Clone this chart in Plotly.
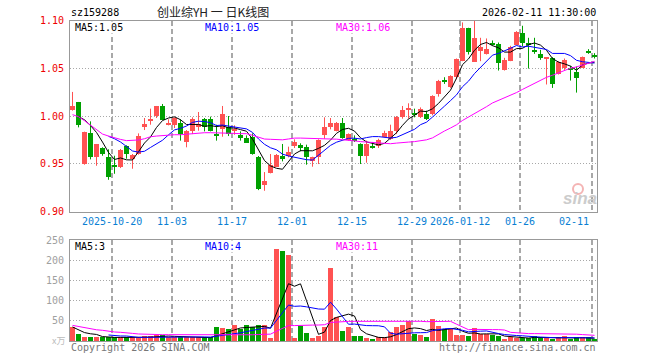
import numpy as np
import pandas as pd
import plotly.graph_objects as go

# ---------------- data ----------------
holidays = ["2026-01-01", "2026-01-02"]
dates = [d.strftime("%Y-%m-%d") for d in pd.bdate_range("2025-10-09", "2026-02-11")
         if d.strftime("%Y-%m-%d") not in holidays]

open_ = [1.0063, 1.0147, 0.9504, 0.9832, 0.9574, 0.9665, 0.9581, 0.9497, 0.9469, 0.9693,
         0.9560, 0.9612, 0.9888, 0.9955, 1.0007, 1.0105, 0.9916, 0.9916, 0.9937, 0.9728,
         0.9846, 0.9888, 0.9972, 0.9979, 0.9818, 0.9874, 0.9895, 0.9853, 0.9804, 0.9770,
         0.9790, 0.9581, 0.9287, 0.9406, 0.9476, 0.9588, 0.9588, 0.9686, 0.9700, 0.9679,
         0.9539, 0.9574, 0.9804, 0.9888, 0.9853, 0.9937, 0.9756, 0.9762, 0.9707, 0.9588,
         0.9693, 0.9686, 0.9783, 0.9762, 0.9853, 0.9993, 1.0063, 1.0035, 0.9990, 1.0021,
         1.0021, 1.0231, 1.0378, 1.0308, 1.0413, 1.0581, 1.0924, 1.0574, 1.0686, 1.0651,
         1.0770, 1.0756, 1.0483, 1.0581, 1.0749, 1.0875, 1.0770, 1.0693, 1.0651, 1.0609,
         1.0616, 1.0441, 1.0504, 1.0511, 1.0462, 1.0504, 1.0672, 1.0637]
high = [1.0252, 1.0147, 0.9836, 0.9944, 0.9707, 0.9672, 0.9651, 0.9584, 0.9654, 0.9693,
        0.9602, 0.9818, 0.9979, 1.0077, 1.0105, 1.0126, 0.9965, 0.9986, 0.9965, 0.9853,
        0.9986, 1.0042, 0.9979, 0.9993, 0.9909, 1.0105, 1.0000, 0.9902, 0.9839, 0.9797,
        0.9818, 0.9581, 0.9413, 0.9602, 0.9602, 0.9707, 0.9679, 0.9756, 0.9714, 0.9700,
        0.9574, 0.9756, 0.9986, 0.9979, 0.9937, 0.9979, 0.9818, 0.9797, 0.9714, 0.9742,
        0.9728, 0.9762, 0.9846, 0.9909, 1.0000, 1.0105, 1.0133, 1.0077, 1.0090, 1.0056,
        1.0217, 1.0378, 1.0406, 1.0427, 1.0602, 1.0980, 1.0924, 1.1000, 1.0819, 1.0812,
        1.0791, 1.0770, 1.0609, 1.0735, 1.0889, 1.0945, 1.0819, 1.0819, 1.0693, 1.0616,
        1.0616, 1.0574, 1.0602, 1.0525, 1.0518, 1.0623, 1.0700, 1.0658]
low = [1.0056, 0.9881, 0.9490, 0.9546, 0.9479, 0.9584, 0.9332, 0.9395, 0.9455, 0.9553,
       0.9448, 0.9595, 0.9853, 0.9909, 0.9979, 0.9965, 0.9902, 0.9874, 0.9742, 0.9672,
       0.9811, 0.9846, 0.9839, 0.9839, 0.9742, 0.9783, 0.9790, 0.9804, 0.9742, 0.9720,
       0.9595, 0.9224, 0.9217, 0.9399, 0.9469, 0.9525, 0.9567, 0.9665, 0.9630, 0.9490,
       0.9469, 0.9497, 0.9762, 0.9860, 0.9839, 0.9762, 0.9742, 0.9728, 0.9497, 0.9511,
       0.9658, 0.9665, 0.9777, 0.9749, 0.9811, 0.9972, 0.9972, 0.9986, 0.9979, 0.9958,
       1.0007, 1.0203, 1.0336, 1.0294, 1.0385, 1.0574, 1.0644, 1.0567, 1.0574, 1.0644,
       1.0735, 1.0476, 1.0476, 1.0574, 1.0742, 1.0728, 1.0497, 1.0651, 1.0588, 1.0330,
       1.0294, 1.0434, 1.0483, 1.0371, 1.0245, 1.0504, 1.0651, 1.0602]
close = [1.0112, 0.9910, 0.9836, 0.9574, 0.9707, 0.9609, 0.9364, 0.9469, 0.9654, 0.9609,
         0.9602, 0.9797, 0.9923, 0.9972, 1.0105, 0.9965, 0.9930, 0.9986, 0.9818, 0.9853,
         0.9979, 0.9923, 0.9888, 0.9853, 0.9804, 1.0021, 0.9818, 0.9874, 0.9770, 0.9720,
         0.9609, 0.9238, 0.9329, 0.9490, 0.9595, 0.9560, 0.9630, 0.9735, 0.9665, 0.9574,
         0.9574, 0.9756, 0.9895, 0.9937, 0.9930, 0.9777, 0.9818, 0.9749, 0.9588, 0.9714,
         0.9679, 0.9756, 0.9832, 0.9853, 1.0000, 1.0070, 1.0091, 1.0021, 1.0077, 0.9972,
         1.0217, 1.0371, 1.0364, 1.0427, 1.0602, 1.0924, 1.0672, 1.0819, 1.0728, 1.0707,
         1.0756, 1.0560, 1.0595, 1.0728, 1.0889, 1.0770, 1.0756, 1.0679, 1.0616, 1.0616,
         1.0343, 1.0567, 1.0588, 1.0497, 1.0399, 1.0623, 1.0665, 1.0630]
volume = [35, 16.7, 10, 10, 10, 8.3, 8.3, 8.3, 10, 8.3,
          8.3, 8.3, 11.7, 11.7, 13.3, 15, 10, 8.3, 10, 8.3,
          8.3, 8.3, 8.3, 8.3, 33, 31.7, 29, 39, 30, 39,
          35, 39, 39, 7.5, 229, 224, 215, 7.5, 37.5, 19,
          7.5, 11.7, 35, 182, 58, 25, 35, 11.7, 11.7, 6.7,
          5, 10, 8.3, 22.5, 34, 39, 50, 17.5, 14, 10,
          54, 36.7, 28, 29, 14, 14, 11.7, 31.7, 15.8, 15.8,
          14, 11.7, 4.2, 10, 7.5, 7.5, 7.5, 11.7, 8.3, 8.3,
          5, 8.3, 11.7, 5, 8.3, 8.3, 8.3, 5]

# moving-average values before a full window is visible
ma5_head = [None, 0.9993, 0.9960, 0.9900]
ma10_head = [None, None, None, None, None, None, 0.9787, 0.9762, 0.9728]
ma30_head = [1.0014, 0.9993, 0.9951, 0.9902, 0.9853, 0.9811, 0.9790, 0.9770, 0.9755, 0.9742,
             0.9742, 0.9749, 0.9762, 0.9783, 0.9790, 0.9797, 0.9797, 0.9804, 0.9804, 0.9811,
             0.9818, 0.9822, 0.9825, 0.9825, 0.9825, 0.9825, 0.9822, 0.9818, 0.9815]
vol_ma5_head = [35, 27, 21, 18]
vol_ma10_head = [None, None, None, None, None, None, 15, 13.5, 12.5]
vol_ma30_head = [39, 36, 32.5, 30, 28, 26.7, 24, 22.5, 21.7, 21,
                 19, 17.5, 16.7, 16.7, 15.8, 15.8, 15.8, 15.8, 15.8, 15.8,
                 15.8, 15.8, 15, 14.2, 14.2, 15, 15, 15.8, 15.8]

tick_dates = ["2025-10-20", "2025-11-03", "2025-11-17", "2025-12-01", "2025-12-15",
              "2025-12-29", "2026-01-12", "2026-01-26", "2026-02-11"]
tick_text = ["2025-10-20", "11-03", "11-17", "12-01", "12-15",
             "12-29", "2026-01-12", "01-26", "02-11"]
price_ticks = [0.90, 0.95, 1.00, 1.05, 1.10]
price_tick_text = ["0.90", "0.95", "1.00", "1.05", "1.10"]
vol_ticks = [50, 100, 150, 200, 250]
vol_tick_text = ["50", "100", "150", "200", "250"]

title_code = "sz159288"
title_name = "创业综YH 一 日K线图"
title_time = "2026-02-11 11:30:00"
ma_labels = ["MA5:1.05", "MA10:1.05", "MA30:1.06"]
vol_ma_labels = ["MA5:3", "MA10:4", "MA30:11"]

# ---------------- style ----------------
RED = "#ff5252"
GREEN = "#00a000"
MA_COLORS = ["#000000", "#0000ff", "#ff00ff"]
GRID = "#a8a8a8"
FRAME = "#999999"
MONO = "DejaVu Sans Mono"

W, H = 660, 360
L, R, T, B = 70, 597, 20, 341          # plot area in pixels


def px(x):
    return (x - L) / (R - L)


def py(y):
    return (B - y) / (B - T)


n = len(close)
idx = np.arange(n)
o = np.array(open_)
c = np.array(close)
hi = np.array(high)
lo = np.array(low)
vol = np.array(volume, dtype=float)
up = c >= o


def moving(values, k, head):
    s = pd.Series(values, dtype=float).rolling(k).mean()
    out = [None if np.isnan(v) else float(v) for v in s]
    for i, h in enumerate(head):
        out[i] = h
    return out


ma_price = [moving(c, 5, ma5_head), moving(c, 10, ma10_head), moving(c, 30, ma30_head)]
ma_vol = [moving(vol, 5, vol_ma5_head), moving(vol, 10, vol_ma10_head), moving(vol, 30, vol_ma30_head)]

fig = go.Figure()

BODY_W = 5 / 6
MIN_BODY = 0.0011

for mask, col in ((up, RED), (~up, GREEN)):
    xs = idx[mask]
    wx, wy = [], []
    for i in xs:
        wx += [int(i), int(i), None]
        wy += [float(lo[i]), float(hi[i]), None]
    fig.add_trace(go.Scatter(x=wx, y=wy, mode="lines", line=dict(color=col, width=1),
                             xaxis="x", yaxis="y", hoverinfo="skip"))
    base = np.minimum(o[mask], c[mask])
    hgt = np.maximum(np.abs(c[mask] - o[mask]), MIN_BODY)
    fig.add_trace(go.Bar(x=xs, y=hgt, base=base, width=BODY_W, marker=dict(color=col, line=dict(width=0)),
                         xaxis="x", yaxis="y", hoverinfo="skip"))
    fig.add_trace(go.Bar(x=xs, y=vol[mask], width=BODY_W, marker=dict(color=col, line=dict(width=0)),
                         xaxis="x2", yaxis="y2", hoverinfo="skip"))

for vals, col in zip(ma_price, MA_COLORS):
    fig.add_trace(go.Scatter(x=idx, y=vals, mode="lines", line=dict(color=col, width=1),
                             xaxis="x", yaxis="y", connectgaps=False, hoverinfo="skip"))
for vals, col in zip(ma_vol, MA_COLORS):
    fig.add_trace(go.Scatter(x=idx, y=vals, mode="lines", line=dict(color=col, width=1),
                             xaxis="x2", yaxis="y2", connectgaps=False, hoverinfo="skip"))

GRID_SHIFT = -2.5 / 6     # vertical grid sits 2.5px left of the candle centre
tick_idx = [dates.index(d) for d in tick_dates]
grid_pos = [i + GRID_SHIFT for i in tick_idx]

xr = [-2.5 / 6, -2.5 / 6 + (R - L) / 6]
xcommon = dict(range=xr, tickvals=grid_pos, showticklabels=False, ticks="",
               showgrid=True, gridcolor=GRID, gridwidth=2, griddash="5px,3px",
               showline=True, mirror=True, linecolor=FRAME, linewidth=1, zeroline=False)

price_dom = [py(211.5), py(20.5)]
vol_dom = [0, py(240.3)]

fig.update_layout(
    width=W, height=H,
    margin=dict(l=L, r=W - R, t=T, b=H - B, pad=0),
    paper_bgcolor="white", plot_bgcolor="white",
    showlegend=False, barmode="overlay", bargap=0,
    xaxis=dict(anchor="y", domain=[0, 1], **xcommon),
    xaxis2=dict(anchor="y2", domain=[0, 1], matches="x", **xcommon),
    yaxis=dict(domain=price_dom, range=[0.9, 1.1], anchor="x",
               tickvals=price_ticks, ticktext=price_tick_text,
               tickfont=dict(family=MONO, size=10, color="#ee0000"),
               ticks="", ticklabelstandoff=3,
               showgrid=True, gridcolor=GRID, gridwidth=1, griddash="1px,2px",
               showline=True, mirror=True, linecolor=FRAME, linewidth=1, zeroline=False),
    yaxis2=dict(domain=vol_dom, range=[0, 251.2], anchor="x2",
                tickvals=vol_ticks, ticktext=vol_tick_text,
                tickfont=dict(family=MONO, size=10, color="#a0a0a0"),
                ticks="", ticklabelstandoff=3,
                showgrid=True, gridcolor=GRID, gridwidth=1, griddash="1px,2px",
                showline=True, mirror=True, linecolor=FRAME, linewidth=1, zeroline=False),
)

ann = []


def text(x, y, s, color, size=10, family=MONO, xanchor="left", **kw):
    ann.append(dict(x=px(x), y=py(y), xref="paper", yref="paper", text=s, showarrow=False,
                    xanchor=xanchor, yanchor="middle", font=dict(family=family, size=size, color=color),
                    borderpad=0, **kw))


# header
text(70, 12, title_code, "#000000", size=10)
text(213, 11.5, title_name, "#222222", size=12, family="Noto Sans CJK SC", xanchor="center")
text(597, 12, title_time, "#000000", size=10, xanchor="right")
# MA labels (drawn over the grid with a white backing, as in the reference)
for s, x0, col in zip(ma_labels, [74, 204, 335], MA_COLORS):
    text(x0, 27, s, col, size=10, bgcolor="white")
for s, x0, col in zip(vol_ma_labels, [74, 204, 335], MA_COLORS):
    text(x0, 246.5, s, col, size=10, bgcolor="white")
# footer
text(70, 347, "Copyright 2026 SINA.COM", "#777777", size=10)
text(597, 347, "http://finance.sina.com.cn", "#777777", size=10, xanchor="right")
# volume unit
text(66, 340, "x万", "#bbbbbb", size=9, family="Noto Sans CJK SC", xanchor="right")
# watermark
text(598, 199, "<b><i>sina</i></b>", "#cccccc", size=17, family="Liberation Sans", xanchor="right")

# date labels
for k, (gp, s) in enumerate(zip(grid_pos, tick_text)):
    last = k == len(grid_pos) - 1
    ann.append(dict(x=gp, y=py(221), xref="x", yref="paper", text=s, showarrow=False,
                    xanchor="right" if last else "center", xshift=-2 if last else 0,
                    yanchor="middle", borderpad=0,
                    font=dict(family=MONO, size=10, color="#0a7fd4")))

fig.update_layout(annotations=ann)
fig.add_shape(type="circle", xref="paper", yref="paper",
              x0=px(573), x1=px(583), y0=py(194), y1=py(184),
              line=dict(color="#f4b4b4", width=2))

fig.write_html("out.html")
